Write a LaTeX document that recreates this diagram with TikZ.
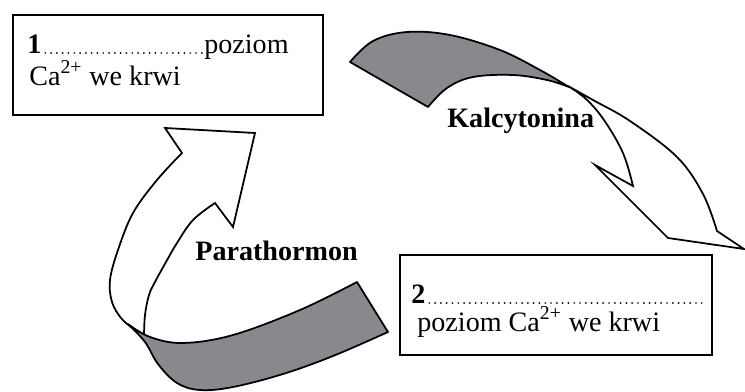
\documentclass[tikz,border=0pt]{standalone}
\usepackage{fontspec}
\setmainfont{Liberation Serif}
\definecolor{ribbongray}{RGB}{136,137,142}

\begin{document}
\begin{tikzpicture}[x=0.02cm, y=-0.02cm,
    every node/.style={font=\fontsize{16}{19}\selectfont},
    box/.style={draw, line width=1.2pt, minimum width=6.2cm, minimum height=2cm},
    lbl/.style={inner sep=0pt, anchor=base west},
    dotline/.style={line width=1.1pt, line cap=round, dash pattern=on 0pt off 3.3pt},
    ribbon/.style={fill=ribbongray, draw=black, line width=1pt, line join=round},
    arrowbody/.style={fill=white, draw=black, line width=1pt, line join=miter}]

  \useasboundingbox (0,0) rectangle (745,392);

  % ==================================================
  % Top left box (1)
  % ==================================================
  \node[box] (box1) at (168,65) {};
  \node[lbl] (n1) at (27,53) {\textbf{1}};
  \node[lbl, anchor=base east] (poz1) at (289,53) {poziom};
  \draw[dotline] (n1.base east) ++(2pt,0) -- (poz1.base west);
  \node[lbl] (ca1) at (29,85) {Ca\textsuperscript{2+} we krwi};

  % ==================================================
  % Bottom right box (2)
  % ==================================================
  \node[box, minimum width=6.24cm] (box2) at (556,305) {};
  \node[lbl] (n2) at (411,303) {\textbf{2}};
  \coordinate (end2) at (702,303);
  \draw[dotline] (n2.base east) ++(2pt,0) -- (end2);
  \node[lbl] (ca2) at (417,331) {poziom Ca\textsuperscript{2+} we krwi};

  % ==================================================
  % Kalcytonina arrow (top right)
  % ==================================================
  % -- white arrow body with head
  \filldraw[arrowbody]
    plot[smooth, tension=0.6] coordinates {(568,86) (593,100) (630,121) (677,157) (703,194) (717,231)}
    -- (744,249) -- (668,238) -- (595,165) -- (633,186)
    -- plot[smooth, tension=0.6] coordinates {(633,186) (623,153) (604,120) (586,99) (568,86)}
    -- cycle;
  % -- gray twisted tail
  \filldraw[ribbon]
    plot[smooth, tension=0.6] coordinates {(350,62) (373,41) (407,32) (450,35) (500,50) (540,70) (569,87)}
    -- plot[smooth, tension=0.6] coordinates {(569,87) (547,80) (513,75) (473,77) (447,88) (428,107)}
    -- cycle;
  \node[lbl] (kalc) at (447,128) {\textbf{Kalcytonina}};

  % ==================================================
  % Parathormon arrow (bottom left)
  % ==================================================
  % -- white arrow body with head
  \filldraw[arrowbody]
    plot[smooth, tension=0.6] coordinates {(131,327) (121,318) (112,302) (110,280) (118,250) (133,213) (157,180) (182,153)}
    -- (165,128) -- (255,133) -- (233,227) -- (215,203)
    -- plot[smooth, tension=0.6] coordinates {(215,203) (193,220) (177,243) (166,262) (155,282) (149,295) (145,315) (144,336)}
    -- cycle;
  % -- gray twisted tail
  \filldraw[ribbon]
    plot[smooth, tension=0.6] coordinates {(128,324) (150,337) (183,343) (233,335) (300,310) (357,282)}
    -- (388,332)
    -- plot[smooth, tension=0.6] coordinates {(388,332) (333,356) (283,374) (233,387) (200,390) (177,383) (158,364) (145,342) (128,324)}
    -- cycle;
  \node[lbl] (para) at (195,260) {\textbf{Parathormon}};

\end{tikzpicture}
\end{document}
